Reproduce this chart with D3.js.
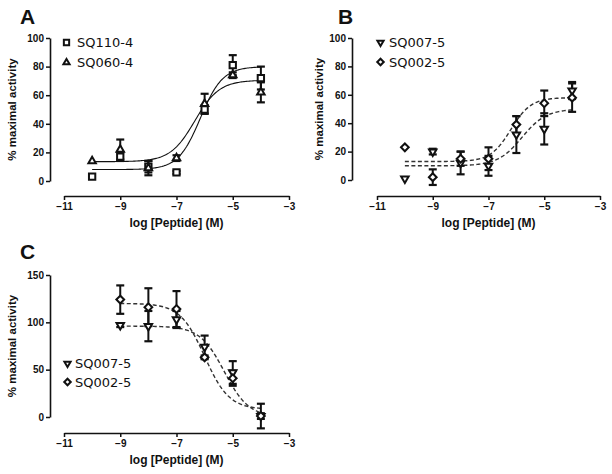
<!DOCTYPE html>
<html><head><meta charset="utf-8">
<script src="https://cdn.jsdelivr.net/npm/d3@7"></script>
<style>body{margin:0;background:#fff}</style>
</head><body><svg id="c" width="612" height="474"></svg>
<script>
// ---- data ----
const dosesAB = [-10,-9,-8,-7,-6,-5,-4];
const dosesC = [-9,-8,-7,-6,-5,-4];
const xTicks = [-11,-9,-7,-5,-3];
const yTicksAB = [0,20,40,60,80,100];
const yTicksC = [0,50,100,150];

const aSQ110 = [3,17,10,6,50,81,72];
const aSQ110err = [0,3,4,1,3,7,8];
const aSQ060 = [14,22,9,16,54,74,62];
const aSQ060err = [0,7,5,2,7,2,7];

const bSQ007 = [1,20,12,10,32,36,63];
const bSQ007err = [0,2,8,7,13,11,6];
const bSQ002 = [23,2,15,15,39,54,58];
const bSQ002err = [0,5.5,5,8,6,9,10];

const cSQ007 = [97,96,103,74,47,1];
const cSQ007err = [2,16,9,12,12,3];
const cSQ002 = [124,116,114,63,41,1];
const cSQ002err = [15,20,19,2,8,13];

// fitted dose-response parameters [bottom, top, logEC50, hill]
const fitA110 = [8,80,-6.15,1.1];
const fitA060 = [13.5,70.5,-6.35,1];
const fitB007 = [10,50,-5.8,1];
const fitB002 = [13,58,-6.2,1.2];
const fitC007 = [0,96,-5.3,-1];
const fitC002 = [8,120,-6.0,-1];

// ---- drawing ----
const svg = d3.select("#c");
const tickFont = "'Liberation Sans', Arial, sans-serif";

function sym(kind){
  if(kind==="square") return {t:d3.symbolSquare, s:40, r:0};
  if(kind==="up") return {t:d3.symbolTriangle, s:24, r:0};
  if(kind==="down") return {t:d3.symbolTriangle, s:24, r:180};
  return {t:d3.symbolSquare, s:30, r:45}; // diamond
}

function panel(cfg){
  const g = svg.append("g");
  const x = d3.scaleLinear().domain([-11,-3]).range(cfg.xr);
  const y = d3.scaleLinear().domain(cfg.yd).range(cfg.yr);

  const ya = g.append("g").attr("transform",`translate(${cfg.yAxisX},0)`)
    .call(d3.axisLeft(y).tickValues(cfg.yTicks).tickSize(4).tickSizeOuter(0).tickPadding(2));
  const xa = g.append("g").attr("transform",`translate(0,${cfg.xAxisY})`)
    .call(d3.axisBottom(x).tickValues(xTicks).tickSize(4).tickSizeOuter(0).tickPadding(3));
  [ya,xa].forEach(a=>{
    a.select(".domain").attr("stroke","#111").attr("stroke-width",1.6);
    a.selectAll(".tick line").attr("stroke","#111").attr("stroke-width",1.5);
    a.selectAll("text").attr("font-family",tickFont).attr("font-weight","bold")
      .attr("font-size",10).attr("fill","#111");
  });

  g.append("text").attr("transform",`translate(${cfg.yLabX},${(cfg.yr[0]+cfg.yr[1])/2}) rotate(-90)`)
    .attr("text-anchor","middle").attr("font-family",tickFont).attr("font-weight","bold")
    .attr("font-size",11.5).attr("fill","#111").text("% maximal activity");
  g.append("text").attr("x",(cfg.xr[0]+cfg.xr[1])/2).attr("y",cfg.xAxisY+31)
    .attr("text-anchor","middle").attr("font-family",tickFont).attr("font-weight","bold")
    .attr("font-size",12).attr("fill","#111").text("log [Peptide] (M)");
  g.append("text").attr("x",cfg.letterX).attr("y",cfg.letterY)
    .attr("font-family",tickFont).attr("font-weight","bold").attr("font-size",21)
    .attr("fill","#111").text(cfg.letter);

  cfg.series.forEach(s=>{
    const [b,t,ec,h] = s.fit;
    const pts = d3.range(cfg.curveX[0], cfg.curveX[1]+0.001, 0.04)
      .map(v=>[v, b+(t-b)/(1+Math.pow(10,(ec-v)*h))]);
    g.append("path").datum(pts)
      .attr("d", d3.line().x(d=>x(d[0])).y(d=>y(d[1])))
      .attr("fill","none").attr("stroke", cfg.dashed?"#333":"#111")
      .attr("stroke-width", cfg.dashed?1.4:1.1)
      .attr("stroke-dasharray", cfg.dashed?"4,2.5":null);
  });

  cfg.series.forEach(s=>{
    s.vals.forEach((v,i)=>{
      const e = s.err[i];
      if(e>0){
        const cx = x(cfg.doses[i]);
        g.append("line").attr("x1",cx).attr("x2",cx).attr("y1",y(v-e)).attr("y2",y(v+e))
          .attr("stroke","#111").attr("stroke-width",2);
        [v-e,v+e].forEach(ev=>g.append("line").attr("x1",cx-4).attr("x2",cx+4)
          .attr("y1",y(ev)).attr("y2",y(ev)).attr("stroke","#111").attr("stroke-width",2.2));
      }
    });
  });
  cfg.series.forEach(s=>{
    const m = sym(s.marker);
    s.vals.forEach((v,i)=>{
      g.append("path").attr("d",d3.symbol().type(m.t).size(m.s)())
        .attr("transform",`translate(${x(cfg.doses[i])},${y(v)}) rotate(${m.r})`)
        .attr("fill","#fff").attr("stroke","#111").attr("stroke-width",2);
    });
  });

  cfg.series.forEach((s,i)=>{
    const m = sym(s.marker);
    const ly = cfg.legY + i*cfg.legGap;
    g.append("path").attr("d",d3.symbol().type(m.t).size(m.s*0.7)())
      .attr("transform",`translate(${cfg.legX},${ly}) rotate(${m.r})`)
      .attr("fill","#fff").attr("stroke","#111").attr("stroke-width",2);
    g.append("text").attr("x",cfg.legTX).attr("y",ly).attr("dy","0.36em")
      .attr("font-family","'DejaVu Sans', sans-serif").attr("font-size",13)
      .attr("fill","#111").text(s.name);
  });
}

panel({letter:"A", letterX:20, letterY:24,
  xr:[64,289], yd:[0,100], yr:[181,38], yAxisX:50, xAxisY:196, yTicks:yTicksAB,
  yLabX:16, doses:dosesAB, curveX:[-10,-4], dashed:false,
  legX:66.5, legTX:77, legY:42.5, legGap:20,
  series:[
    {name:"SQ110-4", marker:"square", vals:aSQ110, err:aSQ110err, fit:fitA110},
    {name:"SQ060-4", marker:"up", vals:aSQ060, err:aSQ060err, fit:fitA060}
  ]});

panel({letter:"B", letterX:338, letterY:24,
  xr:[377,600], yd:[0,100], yr:[180,38], yAxisX:352, xAxisY:196, yTicks:yTicksAB,
  yLabX:323, doses:dosesAB, curveX:[-10,-4], dashed:true,
  legX:380.5, legTX:389, legY:42.5, legGap:19.5,
  series:[
    {name:"SQ007-5", marker:"down", vals:bSQ007, err:bSQ007err, fit:fitB007},
    {name:"SQ002-5", marker:"diamond", vals:bSQ002, err:bSQ002err, fit:fitB002}
  ]});

panel({letter:"C", letterX:20, letterY:259,
  xr:[64,289], yd:[0,150], yr:[417,275], yAxisX:50, xAxisY:433, yTicks:yTicksC,
  yLabX:16, doses:dosesC, curveX:[-9,-4], dashed:true,
  legX:67.5, legTX:75, legY:363.5, legGap:18.5,
  series:[
    {name:"SQ007-5", marker:"down", vals:cSQ007, err:cSQ007err, fit:fitC007},
    {name:"SQ002-5", marker:"diamond", vals:cSQ002, err:cSQ002err, fit:fitC002}
  ]});
</script></body></html>
